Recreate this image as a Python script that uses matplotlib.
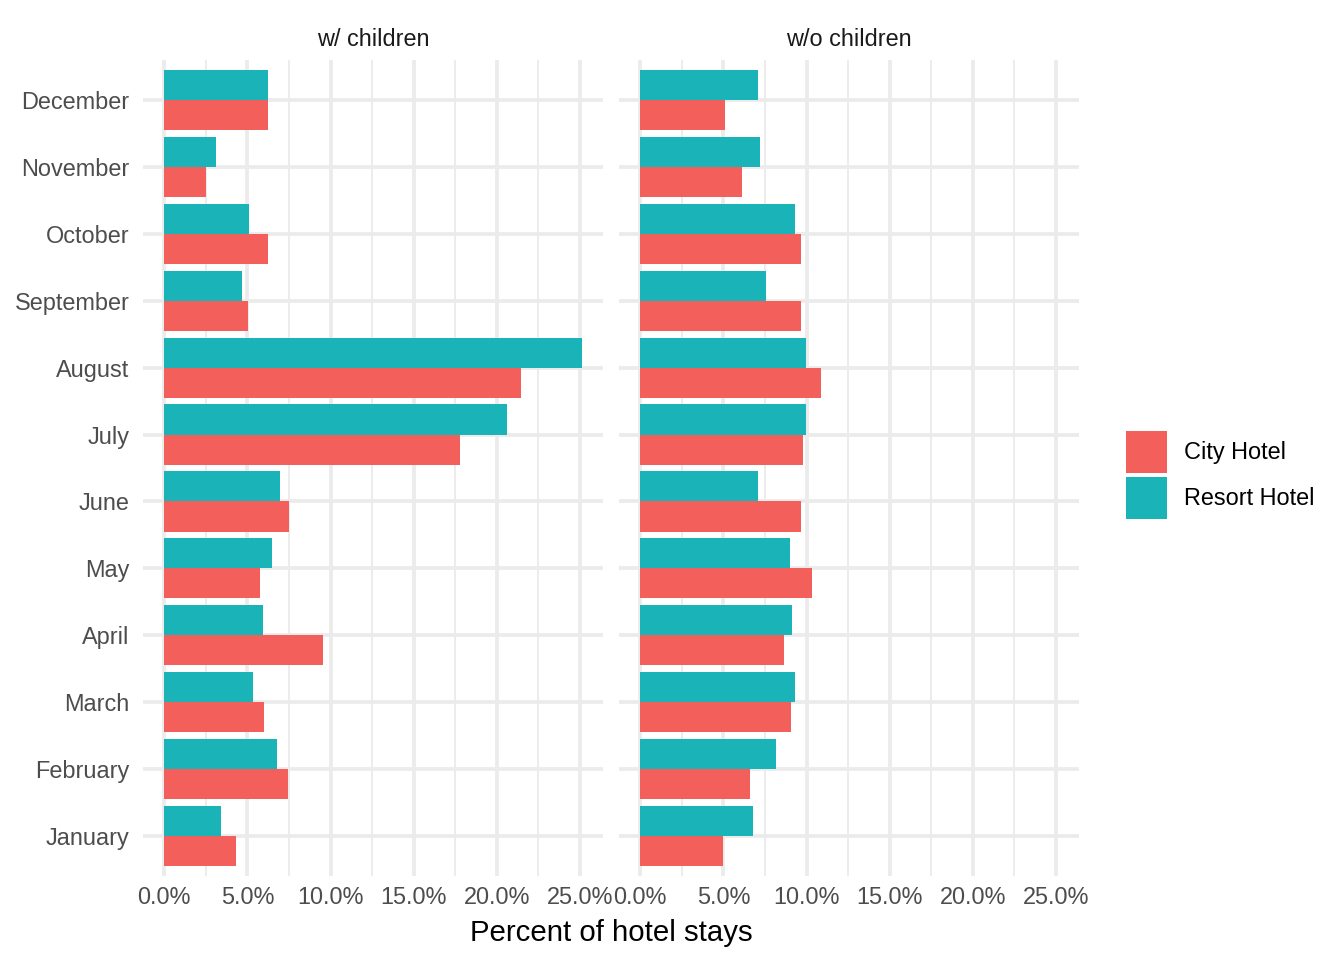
import matplotlib
matplotlib.use("Agg")
import matplotlib.pyplot as plt
import numpy as np
from matplotlib.patches import Patch
from matplotlib.ticker import FixedLocator, FuncFormatter

plt.rcParams["font.family"] = ["Liberation Sans", "DejaVu Sans"]

# data (percent of hotel stays per month)
months = ["January", "February", "March", "April", "May", "June",
          "July", "August", "September", "October", "November", "December"]
panels = ["w/ children", "w/o children"]
hotels = ["City Hotel", "Resort Hotel"]

city_with_children = [4.32, 7.44, 6.00, 9.54, 5.76, 7.50,
                      17.76, 21.42, 5.04, 6.24, 2.52, 6.24]
resort_with_children = [3.42, 6.78, 5.34, 5.94, 6.48, 6.96,
                        20.58, 25.14, 4.68, 5.10, 3.12, 6.24]
city_without_children = [4.98, 6.60, 9.06, 8.64, 10.32, 9.66,
                         9.78, 10.86, 9.66, 9.66, 6.12, 5.10]
resort_without_children = [6.78, 8.16, 9.30, 9.12, 9.00, 7.08,
                           9.96, 9.96, 7.56, 9.30, 7.20, 7.08]

x_ticks = [0, 5, 10, 15, 20, 25]
x_minor = [2.5, 7.5, 12.5, 17.5, 22.5]

COLORS = {"City Hotel": "#F35F5B", "Resort Hotel": "#1AB3B8"}
GRID = "#EBEBEB"
W, H = 1344, 960

fig = plt.figure(figsize=(7, 5), dpi=192)

panel_data = {
    "w/ children": (city_with_children, resort_with_children),
    "w/o children": (city_without_children, resort_without_children),
}
panel_left = [143.3, 619.3]
panel_w = 460.0
panel_top, panel_bot = 59.9, 876.1

xmax = max(max(v) for pair in panel_data.values() for v in pair)
xlim = (-0.05 * xmax, 1.05 * xmax)

y = np.arange(len(months))
bar_h = 0.45

for i, name in enumerate(panels):
    ax = fig.add_axes([panel_left[i] / W, 1 - panel_bot / H,
                       panel_w / W, (panel_bot - panel_top) / H])
    city, resort = panel_data[name]
    ax.barh(y - bar_h / 2, city, height=bar_h, color=COLORS["City Hotel"], zorder=3)
    ax.barh(y + bar_h / 2, resort, height=bar_h, color=COLORS["Resort Hotel"], zorder=3)

    ax.set_xlim(*xlim)
    ax.set_ylim(-0.6, len(months) - 0.4)
    ax.xaxis.set_major_locator(FixedLocator(x_ticks))
    ax.xaxis.set_minor_locator(FixedLocator(x_minor))
    ax.xaxis.set_major_formatter(FuncFormatter(lambda v, p: f"{v:.1f}%"))
    ax.set_yticks(y)
    ax.set_yticklabels(months if i == 0 else [])

    ax.grid(True, which="major", color=GRID, linewidth=1.42, zorder=0)
    ax.grid(True, which="minor", axis="x", color=GRID, linewidth=0.71, zorder=0)
    ax.set_axisbelow(True)
    for s in ax.spines.values():
        s.set_visible(False)
    ax.tick_params(axis="both", which="both", length=0, labelsize=8.8,
                   labelcolor="#4D4D4D")
    ax.tick_params(axis="x", pad=3.9)
    ax.tick_params(axis="y", pad=5.2)

    ax.text(0.5, 1 + 19.9 / (panel_bot - panel_top), name, transform=ax.transAxes,
            ha="center", va="center", fontsize=8.8, color="#1A1A1A")

fig.text((panel_left[0] + panel_left[1] + panel_w) / 2 / W, 1 - 933 / H,
         "Percent of hotel stays", ha="center", va="center", fontsize=11,
         color="black")

handles = [Patch(facecolor=COLORS[h], edgecolor="none") for h in hotels]
fig.legend(handles, hotels, loc="upper left",
           bbox_to_anchor=(1126 / W, 1 - 431 / H), frameon=False,
           fontsize=8.8, borderpad=0, borderaxespad=0,
           handlelength=1.745, handleheight=2.372, labelspacing=0.17,
           handletextpad=0.72)

fig.savefig("out.png", dpi=192, facecolor="white")
